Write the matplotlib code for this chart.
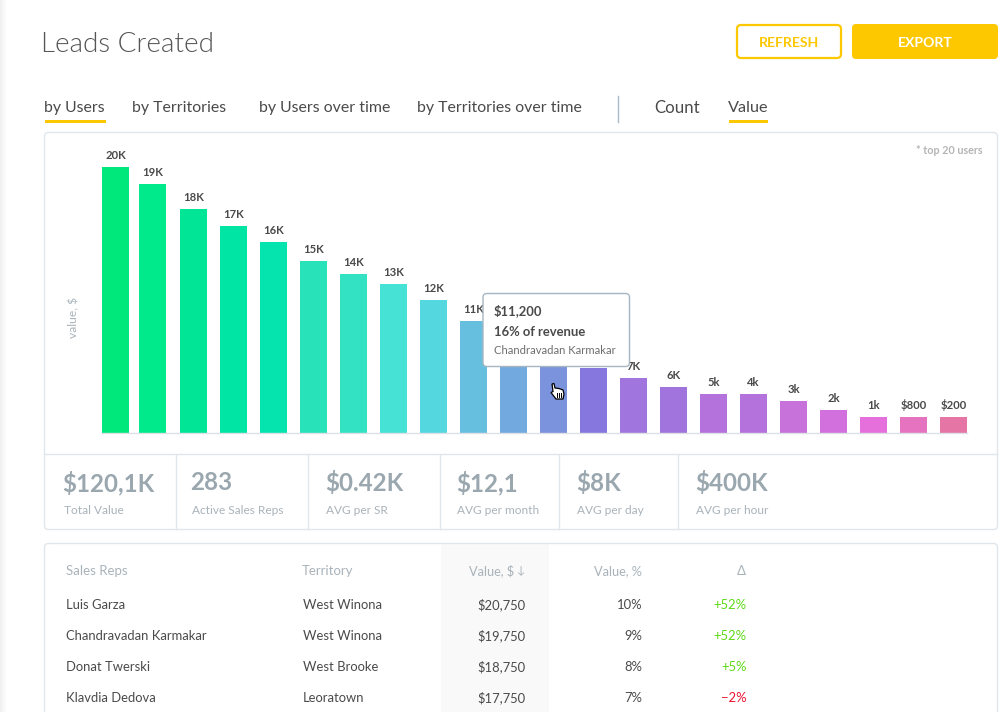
import numpy as np
import matplotlib
matplotlib.use("Agg")
from matplotlib import pyplot as plt
from matplotlib.patches import FancyBboxPatch, Rectangle, Polygon

plt.rcParams['font.family'] = ['Lato', 'DejaVu Sans']

# bar heights ($ scale, labels in the chart are not linear)
bar_values = [19950, 18700, 16800, 15500, 14300, 12900, 11900, 11200, 10000, 8400,
              7000, 5600, 4900, 4100, 3450, 2900, 2900, 2400, 1720, 1200, 1200, 1200]
# the tenth to twelfth labels are hidden by the tooltip in the picture
bar_labels = ['20K', '19K', '18K', '17K', '16K', '15K', '14K', '13K', '12K', '11K',
              '', '', '', '7K', '6K', '5k', '4k', '3k', '2k', '1k', '$800', '$200']
bar_colors = ['#00E87C', '#00E98A', '#00E596', '#00E5A3', '#05E4AE', '#28E3B9',
              '#33E2C3', '#45E2D5', '#55D7E0', '#66BFDF', '#72A9DE', '#7B92DD',
              '#8577DE', '#A075DE', '#A173DD', '#B472DC', '#B472DC', '#C771DB',
              '#D270DE', '#E670DB', '#E673C0', '#E575A5']

tabs = ['by Users', 'by Territories', 'by Users over time', 'by Territories over time']
modes = ['Count', 'Value']

stat_values = ['$120,1K', '283', '$0.42K', '$12,1', '$8K', '$400K']
stat_names = ['Total Value', 'Active Sales Reps', 'AVG per SR', 'AVG per month', 'AVG per day', 'AVG per hour']

reps = ['Luis Garza', 'Chandravadan Karmakar', 'Donat Twerski', 'Klavdia Dedova']
territories = ['West Winona', 'West Winona', 'West Brooke', 'Leoratown']
values = ['$20,750', '$19,750', '$18,750', '$17,750']
shares = ['10%', '9%', '8%', '7%']
deltas = ['+52%', '+52%', '+5%', '\u22122%']

W, H = 1001, 712
DARK = '#4A4A4A'
YELLOW = '#FDC800'
BORDER = '#DFE6EC'
STAT = '#9AA7AF'
MUTED = '#A9B3BA'


def px(size):
    return size * 72 / 100


fig = plt.figure(figsize=(W / 100, H / 100), dpi=100, facecolor='white')

# chart axes, 102..967 px wide, top of panel to baseline
ax = fig.add_axes([102 / W, 1 - 433 / H, 865 / W, 301 / H])
x = np.arange(len(bar_values), dtype=float)
x[0] += 0.05
x[1] -= 0.025
ax.bar(x, bar_values, width=0.675, color=bar_colors, zorder=2)
for xi, v, lab in zip(x, bar_values, bar_labels):
    ax.annotate(lab, (xi, v), xytext=(0, px(11.5)), textcoords='offset points',
                ha='center', va='center', fontsize=px(11.2), fontweight='bold', color=DARK)
ax.set_xlim(-0.2875, 21.3375)
ax.set_ylim(0, 301 * 75)
ax.set_xticks([])
ax.set_yticks([])
for s in ['top', 'left', 'right']:
    ax.spines[s].set_visible(False)
ax.spines['bottom'].set_color('#DDE1E6')
ax.spines['bottom'].set_linewidth(1)
ax.patch.set_alpha(0)

# page furniture in pixel coordinates on top of the chart
ui = fig.add_axes([0, 0, 1, 1], zorder=5)
ui.axis('off')
ui.patch.set_alpha(0)

# faint shadow on the left edge
ui.imshow(np.linspace(0.94, 1, 8).reshape(1, -1), extent=(0, 8, H, 0), cmap='gray',
          vmin=0, vmax=1, aspect='auto', zorder=0)
ui.set_xlim(0, W)
ui.set_ylim(H, 0)


def box(x0, y0, x1, y1, ec=BORDER, fc='none', lw=1.0, r=4, z=1):
    ui.add_patch(FancyBboxPatch((x0, y0), x1 - x0, y1 - y0, boxstyle=f'round,pad=0,rounding_size={r}',
                                ec=ec, fc=fc, lw=lw, zorder=z))


def label(x0, y0, s, size, color=DARK, ha='left', weight='normal', **kw):
    ui.text(x0, y0 + 1, s, fontsize=px(size), color=color, ha=ha, va='center', fontweight=weight, **kw)


label(41, 44, 'Leads Created', 27.8, color='#555555', weight=300)

box(737, 25, 841, 58, ec=YELLOW, lw=1.6)
label(789, 42, 'REFRESH', 14, color=YELLOW, ha='center', weight='bold')
box(852, 24, 998, 59, ec='none', fc=YELLOW)
label(925, 42, 'EXPORT', 14, color='white', ha='center', weight='bold')

for tx, s in zip([44, 132, 259, 417], tabs):
    label(tx, 107, s, 15.95)
label(654, 107, modes[0], 16.8)
label(728, 107, modes[1], 16.2)
ui.add_patch(Rectangle((45, 120), 61, 3, fc=YELLOW, ec='none'))
ui.add_patch(Rectangle((729, 120), 39, 3, fc=YELLOW, ec='none'))
ui.plot([618, 618], [96, 122], color='#A9BCCB', lw=1)

# chart + stats panel
box(44.5, 132.5, 997.5, 529.5)
ui.plot([45, 997], [454, 454], color=BORDER, lw=1)
for dx in [176, 308, 440, 559, 678]:
    ui.plot([dx, dx], [455, 529], color=BORDER, lw=1)
label(983, 149.5, '* top 20 users', 10.7, color='#B5B5B5', ha='right', weight='bold')
label(74, 316, 'value, $', 12, color=MUTED, ha='center', rotation=90)

for sx, v in zip([62.5, 190.5, 325.5, 456.5, 576.5, 695.5], stat_values):
    label(sx, 482, v, 24.1, color=STAT, weight='bold')
for sx, n in zip([64, 192, 326, 457, 577, 696], stat_names):
    label(sx, 510, n, 11.9, color=MUTED)

# table panel, runs off the bottom of the page
ui.add_patch(Rectangle((441, 544), 108, 170, fc='#F9F9F9', ec='none', zorder=0.5))
box(44.5, 543.5, 997.5, 740)
label(66, 570, 'Sales Reps', 13.2, color=MUTED)
label(302, 570, 'Territory', 13.2, color=MUTED)
label(514, 570, 'Value, $', 12.8, color=MUTED, ha='right')
label(524, 570, '\u2193', 11, color=MUTED, ha='right')
label(642, 570, 'Value, %', 12.8, color=MUTED, ha='right')
label(746, 570, '\u0394', 13.2, color=MUTED, ha='right')
for y, a, b, c, d, e in zip([604, 635, 666, 697], reps, territories, values, shares, deltas):
    label(66, y, a, 13)
    label(303, y, b, 13)
    label(525.5, y, c, 13, ha='right')
    label(642.5, y, d, 13, ha='right')
    label(747, y, e, 13, color='#E8112D' if e[0] == '\u2212' else '#5FD917', ha='right')

# tooltip
box(483, 293.5, 629.5, 366.5, ec='#A6B5C2', fc='white', lw=1.0, z=6)
label(494, 310, '$11,200', 13, weight='bold', zorder=7)
label(494, 331, '16% of revenue', 13, weight='bold', zorder=7)
label(494, 350, 'Chandravadan Karmakar', 11.3, color='#6E6E6E', zorder=7)

# hand cursor
hand = [(552, 384), (554, 383.5), (555, 388), (559, 388.5), (563, 390), (564, 394),
        (563, 399), (556, 399), (551, 392.5), (553, 391.5)]
ui.add_patch(Polygon(hand, closed=True, fc='white', ec='black', lw=0.9, zorder=7))
for hx in [557, 559, 561]:
    ui.plot([hx, hx], [393, 397], color='black', lw=0.7, zorder=8)

fig.savefig('out.png', dpi=100)
